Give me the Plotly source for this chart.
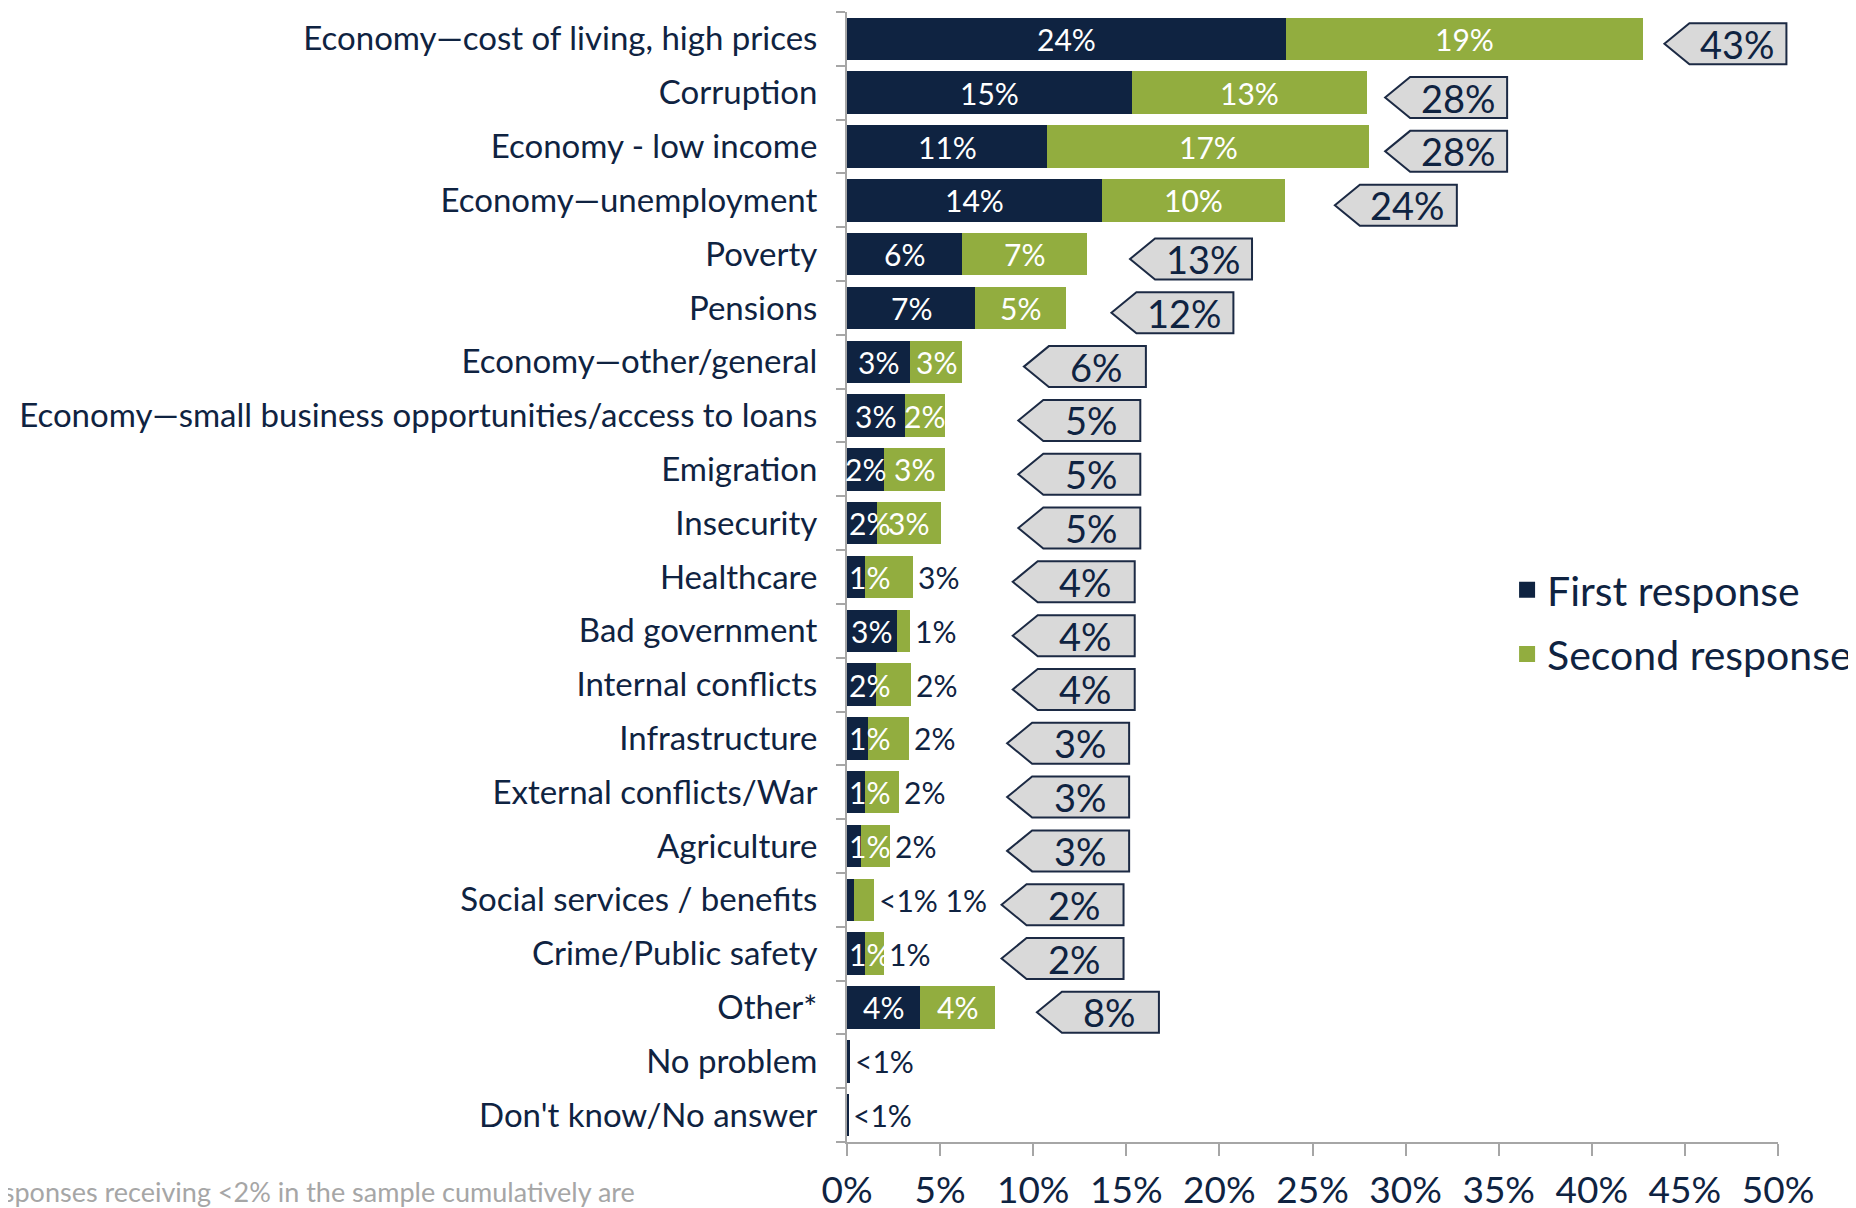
import plotly.graph_objects as go

categories = [
    "Economy\u2014cost of living, high prices",
    "Corruption",
    "Economy - low income",
    "Economy\u2014unemployment",
    "Poverty",
    "Pensions",
    "Economy\u2014other/general",
    "Economy\u2014small business opportunities/access to loans",
    "Emigration",
    "Insecurity",
    "Healthcare",
    "Bad government",
    "Internal conflicts",
    "Infrastructure",
    "External conflicts/War",
    "Agriculture",
    "Social services / benefits",
    "Crime/Public safety",
    "Other*",
    "No problem",
    "Don't know/No answer",
]
first_response = [23.6, 15.3, 10.75, 13.7, 6.2, 6.9, 3.4, 3.1, 1.97, 1.6, 0.95, 2.67, 1.55, 1.15, 0.95, 0.76, 0.38, 0.95, 3.94, 0.15, 0.08]
second_response = [19.15, 12.65, 17.3, 9.8, 6.7, 4.85, 2.8, 2.16, 3.3, 3.45, 2.6, 0.7, 1.9, 2.2, 1.85, 1.53, 1.08, 1.02, 4.0, 0.0, 0.0]
first_labels = ["24%", "15%", "11%", "14%", "6%", "7%", "3%", "3%", "2%", "2%", "1%", "3%", "2%", "1%", "1%", "1%", "<1%", "1%", "4%", "<1%", "<1%"]
second_labels = ["19%", "13%", "17%", "10%", "7%", "5%", "3%", "2%", "3%", "3%", "3%", "1%", "2%", "2%", "2%", "2%", "1%", "1%", "4%", "", ""]
total_labels = [43, 28, 28, 24, 13, 12, 6, 5, 5, 5, 4, 4, 4, 3, 3, 3, 2, 2, 8, None, None]
# rows whose first / second labels sit to the right of the bar
first_outside = {"Social services / benefits", "No problem", "Don't know/No answer"}
second_outside = {"Healthcare", "Bad government", "Internal conflicts", "Infrastructure",
                  "External conflicts/War", "Agriculture", "Social services / benefits",
                  "Crime/Public safety"}
x_ticks = [0, 5, 10, 15, 20, 25, 30, 35, 40, 45, 50]
footnote = "*Responses receiving <2% in the sample cumulatively are"

NAVY = "#0f2341"
GREEN = "#92ad3f"
FONT = "Lato"
ypos = list(range(len(categories)))
X_RANGE = [0, 50]
Y_RANGE = [len(categories) - 0.5, -0.5]


def x_paper(v):
    return (v - X_RANGE[0]) / (X_RANGE[1] - X_RANGE[0])


def y_paper(v):
    return (v - Y_RANGE[0]) / (Y_RANGE[1] - Y_RANGE[0])


def callout_tip(t):
    if t >= 25:
        return t + 0.9
    return max(t + 2.2, 7.7 + 0.3 * t)


fig = go.Figure()
fig.add_trace(go.Bar(y=ypos, x=first_response, orientation="h", name="First response",
                     marker=dict(color=NAVY, line=dict(width=0)), width=0.79, showlegend=False))
fig.add_trace(go.Bar(y=ypos, x=second_response, orientation="h", name="Second response",
                     marker=dict(color=GREEN, line=dict(width=0)), width=0.79, showlegend=False))
# legend entries (square swatches)
fig.add_trace(go.Scatter(x=[None], y=[None], mode="markers", name="First response",
                         legendgroup="a", marker=dict(symbol="square", size=16, color=NAVY)))
fig.add_trace(go.Scatter(x=[None], y=[None], mode="markers", name="Second response",
                         legendgroup="b", marker=dict(symbol="square", size=16, color=GREEN)))

annotations = []
shapes = []
LABEL_W = 1.9  # approx label width in axis units
for i, cat in enumerate(categories):
    f, s = first_response[i], second_response[i]
    outside = []
    if cat in first_outside:
        outside.append(first_labels[i])
    else:
        if f >= LABEL_W:
            annotations.append(dict(x=f / 2, y=i, text=first_labels[i], showarrow=False,
                                    font=dict(color="white", size=30, family=FONT), xanchor="center"))
        else:
            annotations.append(dict(x=0, y=i, text=first_labels[i], showarrow=False, xshift=0,
                                    font=dict(color="white", size=30, family=FONT), xanchor="left"))
    if second_labels[i]:
        if cat in second_outside:
            outside.append(second_labels[i])
        else:
            annotations.append(dict(x=f + s / 2, y=i, text=second_labels[i], showarrow=False,
                                    font=dict(color="white", size=30, family=FONT), xanchor="center"))
    if outside:
        annotations.append(dict(x=f + s, y=i, text=" ".join(outside), showarrow=False, xshift=3,
                                font=dict(color=NAVY, size=30, family=FONT), xanchor="left"))
    t = total_labels[i]
    if t is not None:
        tip = callout_tip(t)
        yc = i + 0.09
        shapes.append(dict(type="path", xref="paper", yref="paper", xsizemode="pixel",
                           ysizemode="pixel", xanchor=x_paper(tip), yanchor=y_paper(yc),
                           path="M 0,0 L 25,20.5 L 122,20.5 L 122,-20.5 L 25,-20.5 Z",
                           fillcolor="#d9d9d9", line=dict(color="#1c2a44", width=2)))
        annotations.append(dict(x=tip, y=yc, xshift=73, text=f"{t}%", showarrow=False,
                                font=dict(color=NAVY, size=38, family=FONT), xanchor="center",
                                yanchor="middle"))

annotations.append(dict(xref="paper", yref="paper", x=-0.2255, y=-0.0442, xanchor="right",
                        yanchor="middle", showarrow=False, text=footnote,
                        font=dict(color="#a6a6a6", size=27, family=FONT)))

fig.update_layout(
    barmode="stack",
    width=1856, height=1208,
    margin=dict(l=839, r=86, t=4, b=74, autoexpand=False),
    plot_bgcolor="white", paper_bgcolor="white",
    font=dict(family=FONT, color=NAVY),
    showlegend=True,
    legend=dict(x=0.709, y=0.518, xanchor="left", yanchor="top",
                font=dict(size=41, color=NAVY, family=FONT), traceorder="grouped",
                tracegroupgap=8, itemwidth=30, bgcolor="rgba(0,0,0,0)"),
    annotations=annotations,
    shapes=shapes,
    bargap=0.21,
)
fig.update_xaxes(range=X_RANGE, tickvals=x_ticks, ticktext=[f"{v}%" for v in x_ticks],
                 showgrid=False, zeroline=False, showline=True, linecolor="#a6a6a6", linewidth=2,
                 ticks="outside", ticklen=12, tickcolor="#a6a6a6", tickwidth=1.5,
                 tickfont=dict(size=37, color=NAVY, family=FONT), ticklabelstandoff=3,
                 automargin=False)
fig.update_yaxes(range=Y_RANGE, tickvals=ypos, ticktext=categories,
                 showgrid=False, zeroline=False, showline=True, linecolor="#a6a6a6", linewidth=2,
                 ticks="", tickfont=dict(size=33, color=NAVY, family=FONT), ticklabelstandoff=21,
                 minor=dict(tick0=-0.5, dtick=1, ticks="outside", ticklen=9, tickcolor="#a6a6a6",
                            tickwidth=1.5, showgrid=False),
                 automargin=False)

fig.write_html("out.html")
